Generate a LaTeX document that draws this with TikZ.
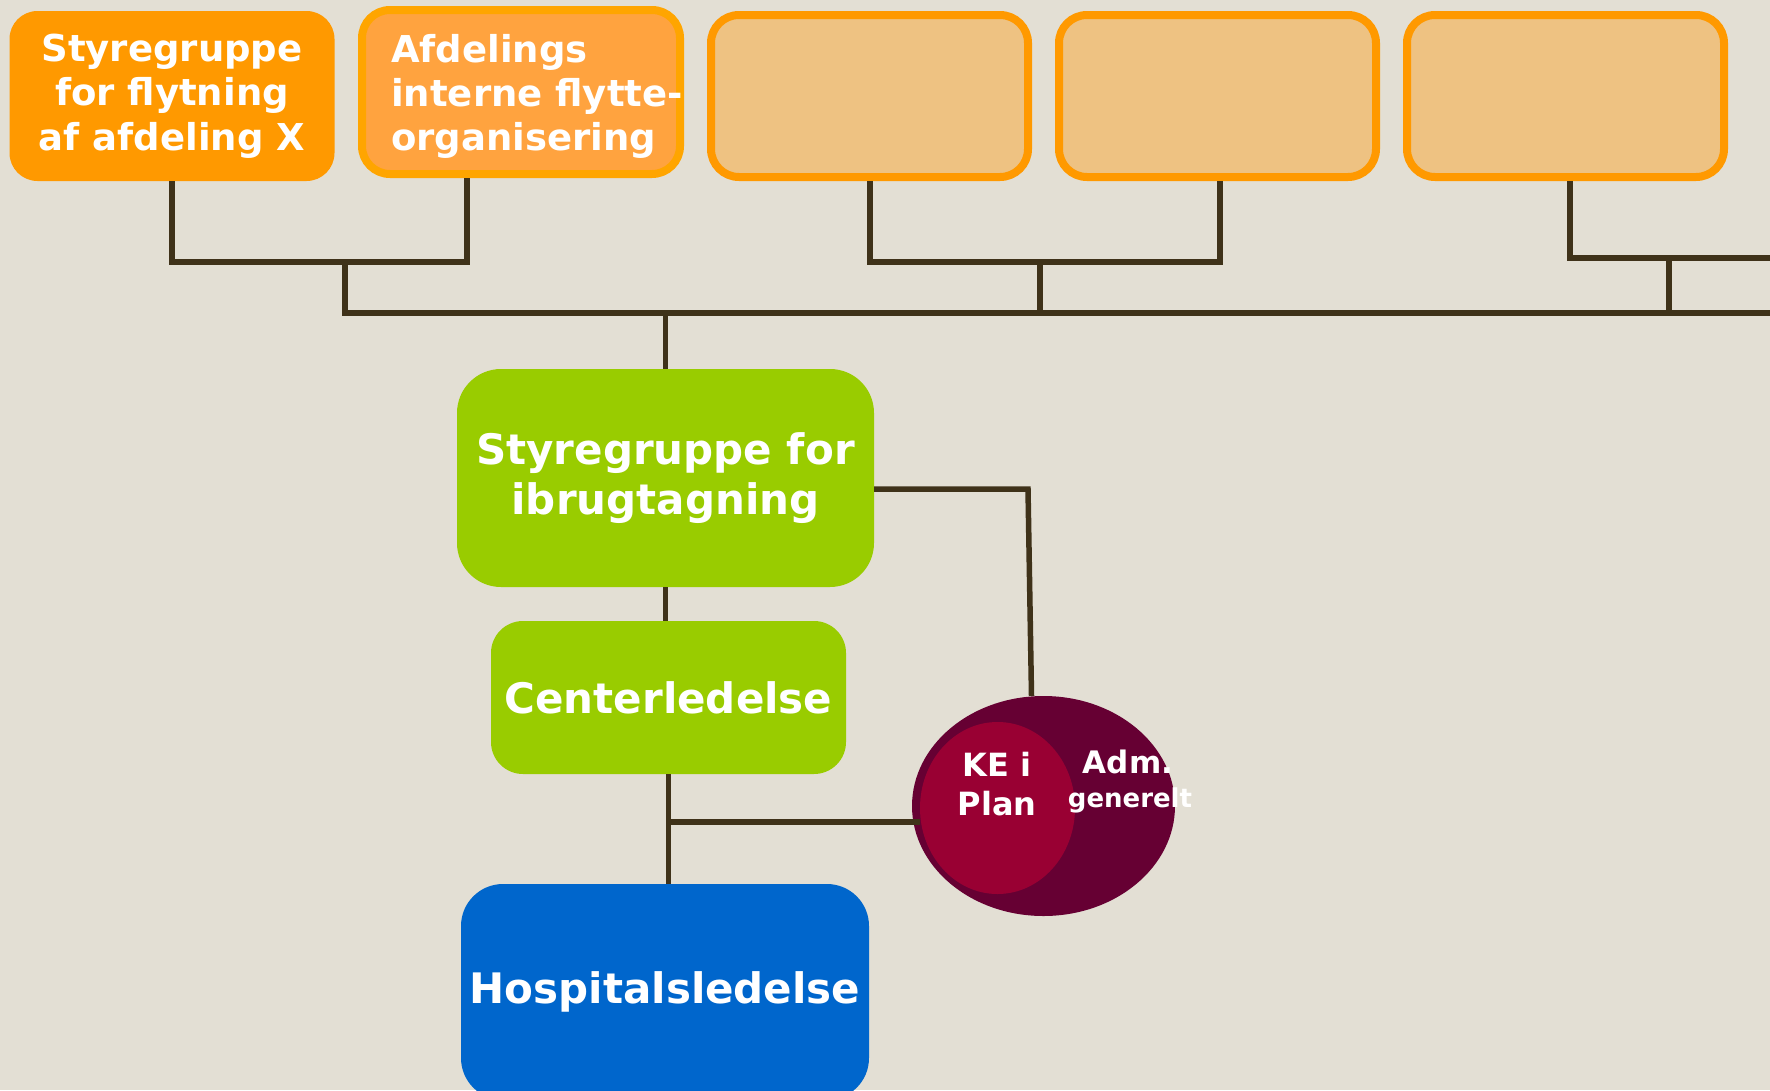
\documentclass[tikz,border=0pt]{standalone}
\usepackage{fontspec}
\setmainfont{DejaVu Sans}
\usetikzlibrary{shapes.geometric}
\definecolor{bund}{HTML}{E3DFD4}
\definecolor{streg}{HTML}{3F3219}
\definecolor{orangeA}{HTML}{FF9900}
\definecolor{orangeB}{HTML}{FFA33F}
\definecolor{orangeBkant}{HTML}{FFA500}
\definecolor{lys}{HTML}{EEC282}
\definecolor{groen}{HTML}{99CC00}
\definecolor{blaa}{HTML}{0066CC}
\definecolor{vin}{HTML}{660033}
\definecolor{rod}{HTML}{990033}
\begin{document}
\begin{tikzpicture}[x=1pt,y=-1pt]
  \tikzstyle{kasse}=[rectangle,inner sep=0pt,align=center,text=white,font=\bfseries]
  \tikzstyle{topkasse}=[kasse,rounded corners=28pt,minimum width=325pt,minimum height=170pt,font=\bfseries\fontsize{37}{44.5}\selectfont]
  \tikzstyle{tomkasse}=[kasse,rounded corners=28pt,fill=lys,draw=orangeA,line width=8pt,minimum width=317pt,minimum height=162pt]
  \tikzstyle{midkasse}=[kasse,fill=groen,font=\bfseries\fontsize{42}{50}\selectfont]
  \tikzstyle{tekst}=[inner sep=0pt,align=center,text=white]
  \tikzstyle{linje}=[draw=streg,line width=5.5pt]

  \fill [bund] (0,0) rectangle (1770,1090);
  \useasboundingbox (0,0) rectangle (1770,1090);
  \clip (0,0) rectangle (1770,1090);

  \begin{scope}

    \node [topkasse,fill=orangeA] (s1) at (172,96) {Styregruppe\\for flytning\\af afdeling X};

    \node [topkasse,fill=orangeB,draw=orangeBkant,line width=8pt,minimum width=318pt,minimum height=164pt] (s2) at (521,92) {};
    \node [tekst,anchor=west,align=left,font=\bfseries\fontsize{37}{44}\selectfont] (s2tekst) at (391,96) {Afdelings\\interne flytte-\\organisering};

    \node [tomkasse] (s3) at (869.5,96) {};
    \node [tomkasse] (s4) at (1217.5,96) {};
    \node [tomkasse] (s5) at (1565.5,96) {};

    \node [midkasse,rounded corners=44pt,minimum width=417pt,minimum height=218pt] (ib) at (665.5,478) {Styregruppe for\\ibrugtagning};
    \node [midkasse,rounded corners=32pt,minimum width=355pt,minimum height=153pt] (cl) at (668.5,697.5) {Centerledelse};
    \node [kasse,fill=blaa,rounded corners=42pt,minimum width=408pt,minimum height=216pt,font=\bfseries\fontsize{42}{50}\selectfont] (hl) at (665,992) {Hospitalsledelse};

    \node [ellipse,fill=vin,inner sep=0pt,minimum width=263pt,minimum height=220pt] (adm) at (1043.5,806) {};
    \node [ellipse,fill=rod,inner sep=0pt,minimum width=155pt,minimum height=172pt] (ke) at (997.5,808) {};
    \node [tekst,font=\bfseries\fontsize{32}{39}\selectfont] (ketekst) at (997,784) {KE i\\Plan};
    \node [tekst,anchor=base,font=\bfseries\fontsize{31}{37}\selectfont] (admtekst) at (1128,773) {Adm.};
    \node [tekst,anchor=base,font=\bfseries\fontsize{26}{31}\selectfont] (gentekst) at (1130,807) {generelt};

    \coordinate (k1) at (172,262);
    \coordinate (k2) at (467,262);
    \coordinate (k3) at (345,262);
    \coordinate (k4) at (345,313);
    \coordinate (bus) at (1770,313);
    \coordinate (k5) at (870,262);
    \coordinate (k6) at (1220,262);
    \coordinate (k7) at (1040,262);
    \coordinate (k8) at (1040,313);
    \coordinate (k9) at (1570,258);
    \coordinate (k10) at (1770,258);
    \coordinate (k11) at (1669,258);
    \coordinate (k12) at (1669,313);
    \coordinate (k13) at (668,822);
    \coordinate (k14) at (1028,489);

    \draw [linje] (s1.south) -- (k1) -- (k2) -- (k2 |- s2.south);
    \draw [linje] (k3) -- (k4) -- (bus);
    \draw [linje] (k5 |- s3.south) -- (k5) -- (k6) -- (k6 |- s4.south);
    \draw [linje] (k7) -- (k8);
    \draw [linje] (k9 |- s5.south) -- (k9) -- (k10);
    \draw [linje] (k11) -- (k12);
    \draw [linje] (ib.north |- k4) -- (ib.north);
    \draw [linje] (ib.south) -- (ib.south |- cl.north);
    \draw [linje] (cl.south) -- (cl.south |- hl.north);
    \draw [linje] (k13) -- (ke.west |- k13);
    \draw [linje] (ib.east |- k14) -- (k14) -- ([xshift=-12pt]adm.north);
  \end{scope}
\end{tikzpicture}
\end{document}
